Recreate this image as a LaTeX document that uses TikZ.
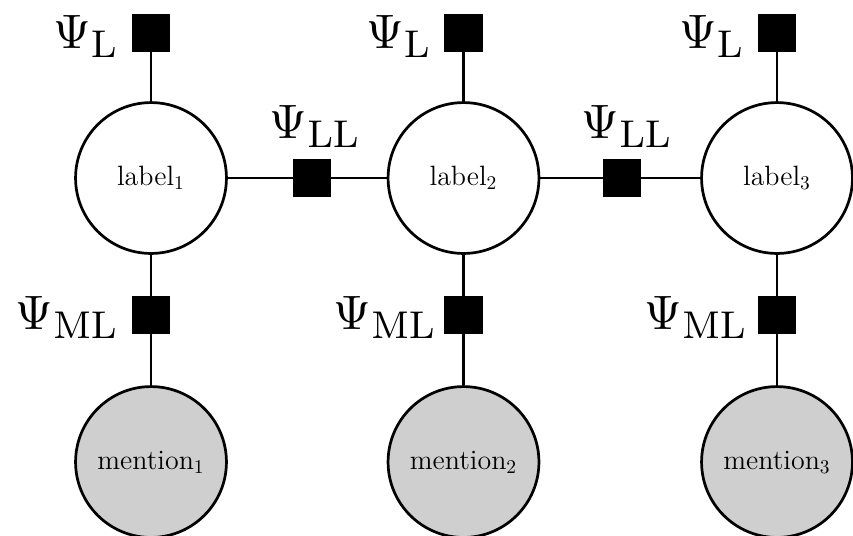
\documentclass[tikz,border=0pt]{standalone}
\DeclareMathSizes{10}{10}{8}{6}
\definecolor{obsgray}{RGB}{207,207,207}
\begin{document}
\begin{tikzpicture}[x=0.515pt,y=-0.515pt,
  var/.style={circle,draw,line width=1.4pt,minimum size=77.7pt,inner sep=0pt,font=\Large},
  obs/.style={var,fill=obsgray},
  fac/.style={rectangle,fill=black,minimum size=19.6pt,inner sep=0pt},
  edge/.style={line width=1.4pt},
  psi/.style={font=\normalsize,inner sep=0pt,scale=2.49}]
\useasboundingbox (0,0) rectangle (853,535);
% column 1
\node[var] (l1) at (151,178) {label$_1$};
\node[obs] (m1) at (151,462) {mention$_1$};
\node[fac] (fL1) at (151,33) {};
\node[fac] (fML1) at (151,315) {};
% column 2
\node[var] (l2) at (463.5,178) {label$_2$};
\node[obs] (m2) at (463.5,462) {mention$_2$};
\node[fac] (fL2) at (463.5,33) {};
\node[fac] (fML2) at (463.5,315) {};
% column 3
\node[var] (l3) at (777,178) {label$_3$};
\node[obs] (m3) at (777,462) {mention$_3$};
\node[fac] (fL3) at (777,33) {};
\node[fac] (fML3) at (777,315) {};
% pairwise factors
\node[fac] (fLL1) at (312,178) {};
\node[fac] (fLL2) at (622,178) {};
% edges
\foreach \i in {1,2,3} {
  \draw[edge] (fL\i) -- (l\i);
  \draw[edge] (l\i) -- (fML\i) -- (m\i);
}
\draw[edge] (l1) -- (fLL1) -- (l2);
\draw[edge] (l2) -- (fLL2) -- (l3);
% factor labels
\node[psi,anchor=base east] (tL1) at (120,48) {$\Psi_{\mathrm{L}}$};
\node[psi,anchor=base east] (tL2) at (433,48) {$\Psi_{\mathrm{L}}$};
\node[psi,anchor=base east] (tL3) at (746,48) {$\Psi_{\mathrm{L}}$};
\node[psi,anchor=base east] (tML1) at (120,329) {$\Psi_{\mathrm{ML}}$};
\node[psi,anchor=base east] (tML2) at (438,329) {$\Psi_{\mathrm{ML}}$};
\node[psi,anchor=base east] (tML3) at (749,329) {$\Psi_{\mathrm{ML}}$};
\node[psi,anchor=base east] (tLL1) at (362,138) {$\Psi_{\mathrm{LL}}$};
\node[psi,anchor=base east] (tLL2) at (674,138) {$\Psi_{\mathrm{LL}}$};
\end{tikzpicture}
\end{document}
